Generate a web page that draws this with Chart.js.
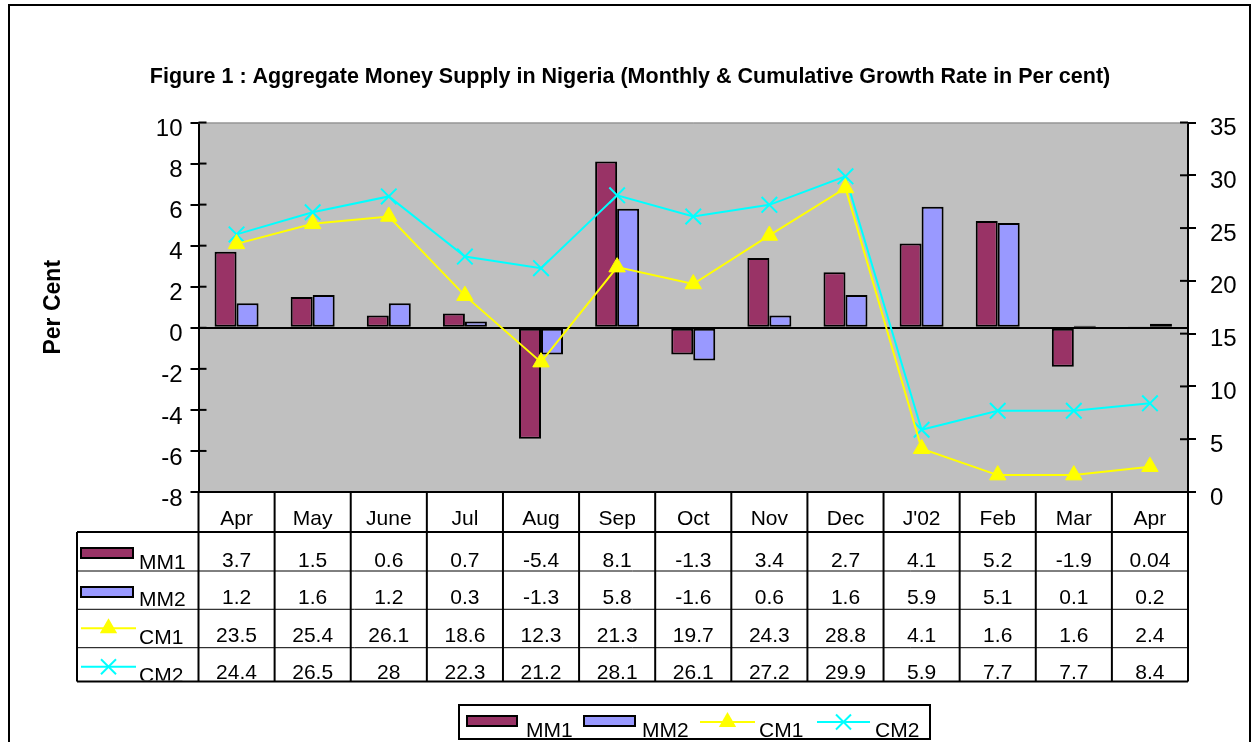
<!DOCTYPE html>
<html>
<head>
<meta charset="utf-8">
<script src="https://cdn.jsdelivr.net/npm/chart.js@4.4.1/dist/chart.umd.min.js"></script>
<style>
  html, body { margin: 0; padding: 0; background: #fff; }
</style>
</head>
<body>
<canvas id="myChart" width="1260" height="742"></canvas>
<script>
const months = ['Apr', 'May', 'June', 'Jul', 'Aug', 'Sep', 'Oct', 'Nov', 'Dec', "J'02", 'Feb', 'Mar', 'Apr'];
const mm1 = [3.7, 1.5, 0.6, 0.7, -5.4, 8.1, -1.3, 3.4, 2.7, 4.1, 5.2, -1.9, 0.04];
const mm2 = [1.2, 1.6, 1.2, 0.3, -1.3, 5.8, -1.6, 0.6, 1.6, 5.9, 5.1, 0.1, 0.2];
const cm1 = [23.5, 25.4, 26.1, 18.6, 12.3, 21.3, 19.7, 24.3, 28.8, 4.1, 1.6, 1.6, 2.4];
const cm2 = [24.4, 26.5, 28, 22.3, 21.2, 28.1, 26.1, 27.2, 29.9, 5.9, 7.7, 7.7, 8.4];
const leftTicks = [-8, -6, -4, -2, 0, 2, 4, 6, 8, 10];
const rightTicks = [0, 5, 10, 15, 20, 25, 30, 35];

const FONT = "'Liberation Sans', Arial, sans-serif";
const series = [
  { label: 'MM1', data: mm1, kind: 'bar', color: '#993366' },
  { label: 'MM2', data: mm2, kind: 'bar', color: '#9999FF' },
  { label: 'CM1', data: cm1, kind: 'tri', color: '#FFFF00' },
  { label: 'CM2', data: cm2, kind: 'cross', color: '#00FFFF' }
];

function seg(ctx, x0, y0, x1, y1) {
  ctx.beginPath(); ctx.moveTo(x0, y0); ctx.lineTo(x1, y1); ctx.stroke();
}

// legend / table key symbol
function drawKey(ctx, s, x0, x1, yc) {
  ctx.save();
  if (s.kind === 'bar') {
    ctx.fillStyle = s.color;
    ctx.fillRect(x0, yc - 5, x1 - x0, 10);
    ctx.strokeStyle = '#000'; ctx.lineWidth = 2;
    ctx.strokeRect(x0, yc - 5, x1 - x0, 10);
  } else {
    ctx.strokeStyle = s.color; ctx.lineWidth = 2;
    seg(ctx, x0, yc, x1, yc);
    const cx = (x0 + x1) / 2;
    if (s.kind === 'tri') {
      const r = 10;
      ctx.fillStyle = s.color;
      ctx.beginPath();
      ctx.moveTo(cx, yc - r);
      ctx.lineTo(cx + r * 0.866, yc + r / 2);
      ctx.lineTo(cx - r * 0.866, yc + r / 2);
      ctx.closePath(); ctx.fill();
    } else {
      const d = 7.5;
      seg(ctx, cx - d, yc - d, cx + d, yc + d);
      seg(ctx, cx - d, yc + d, cx + d, yc - d);
    }
  }
  ctx.restore();
}

const tablePlugin = {
  id: 'dataTable',
  beforeDraw(chart) {
    const { ctx, chartArea: a } = chart;
    ctx.save();
    ctx.fillStyle = '#C0C0C0';
    ctx.fillRect(a.left, a.top, a.right - a.left, a.bottom - a.top);
    ctx.restore();
  },
  afterDraw(chart) {
    const { ctx, chartArea: a, scales } = chart;
    const step = (a.right - a.left) / months.length;
    const rowTops = [532, 571, 609.3, 647.7];
    const textBase = [566.5, 603.5, 641.5, 679];
    const tBottom = 681.5;
    const tLeft = 77;
    ctx.save();
    ctx.strokeStyle = '#000';

    // outer frame
    ctx.lineWidth = 2;
    ctx.strokeRect(9, 5, 1241, 780);

    // plot top border
    ctx.strokeStyle = '#808080'; ctx.lineWidth = 1;
    seg(ctx, a.left, a.top + 0.5, a.right, a.top + 0.5);

    // inner halves of the crossing tick marks
    ctx.strokeStyle = '#000'; ctx.lineWidth = 2;
    scales.y.ticks.forEach(t => {
      const y = scales.y.getPixelForValue(t.value);
      seg(ctx, a.left, y, a.left + 8, y);
    });
    scales.y1.ticks.forEach(t => {
      const y = scales.y1.getPixelForValue(t.value);
      seg(ctx, a.right - 8, y, a.right, y);
    });

    // table grid
    ctx.lineWidth = 2;
    seg(ctx, a.left, a.bottom, a.right, a.bottom);
    for (let i = 0; i <= months.length; i++) {
      const x = a.left + i * step;
      seg(ctx, x, a.bottom, x, tBottom);
    }
    seg(ctx, tLeft, rowTops[0], a.right, rowTops[0]);
    seg(ctx, tLeft, tBottom, a.right, tBottom);
    seg(ctx, tLeft, rowTops[0], tLeft, tBottom);
    ctx.lineWidth = 1;
    for (let r = 1; r < rowTops.length; r++) {
      seg(ctx, tLeft, rowTops[r], a.right, rowTops[r]);
    }

    // table text
    ctx.fillStyle = '#000';
    ctx.font = '21px ' + FONT;
    ctx.textAlign = 'center';
    ctx.textBaseline = 'alphabetic';
    months.forEach((m, i) => {
      ctx.fillText(m, scales.x.getPixelForValue(i), a.bottom + 32.5);
    });
    ctx.save();
    ctx.beginPath(); ctx.rect(0, 0, 1260, tBottom - 1); ctx.clip();
    series.forEach((s, r) => {
      s.data.forEach((v, i) => {
        ctx.fillText(String(v), scales.x.getPixelForValue(i), textBase[r]);
      });
      ctx.textAlign = 'left';
      ctx.fillText(s.label, 139, textBase[r] + 2.5);
      ctx.textAlign = 'center';
      drawKey(ctx, s, 81, s.kind === 'bar' ? 133 : 136, rowTops[r] + (s.kind === 'bar' ? 21 : 19));
    });
    ctx.restore();

    // legend box
    ctx.strokeStyle = '#000'; ctx.lineWidth = 2;
    ctx.strokeRect(459, 705, 471, 34);
    const keys = [[467, 517, 526], [584, 635, 642], [700, 755, 759], [817, 870, 875]];
    ctx.textAlign = 'left';
    series.forEach((s, i) => {
      const [x0, x1, tx] = keys[i];
      drawKey(ctx, s, x0, x1, s.kind === 'bar' ? 721 : 722);
      ctx.fillStyle = '#000';
      ctx.fillText(s.label, tx, 737);
    });
    ctx.restore();
  }
};

const ctx = document.getElementById('myChart').getContext('2d');
new Chart(ctx, {
  type: 'bar',
  data: {
    labels: months,
    datasets: [
      { type: 'line', label: 'CM1', data: cm1, yAxisID: 'y1', order: 1,
        borderColor: '#FFFF00', borderWidth: 2, tension: 0,
        pointStyle: 'triangle', pointRadius: 9.5, pointBackgroundColor: '#FFFF00',
        pointBorderColor: '#FFFF00', pointBorderWidth: 1 },
      { type: 'line', label: 'CM2', data: cm2, yAxisID: 'y1', order: 1,
        borderColor: '#00FFFF', borderWidth: 2, tension: 0,
        pointStyle: 'crossRot', pointRadius: 11,
        pointBorderColor: '#00FFFF', pointBorderWidth: 2 },
      { label: 'MM1', data: mm1, yAxisID: 'y', order: 2,
        backgroundColor: '#993366', borderColor: '#000', borderWidth: 2, borderSkipped: false },
      { label: 'MM2', data: mm2, yAxisID: 'y', order: 2,
        backgroundColor: '#9999FF', borderColor: '#000', borderWidth: 2, borderSkipped: false }
    ]
  },
  options: {
    responsive: false,
    animation: false,
    devicePixelRatio: 1,
    layout: { padding: { left: 0, right: 0, top: 0, bottom: 250 } },
    datasets: { bar: { categoryPercentage: 0.578, barPercentage: 1 } },
    plugins: {
      legend: { display: false },
      tooltip: { enabled: false },
      title: {
        display: true,
        text: 'Figure 1 : Aggregate Money Supply in Nigeria (Monthly & Cumulative Growth Rate in Per cent)',
        color: '#000',
        font: { family: FONT, size: 21.5, weight: 'bold' },
        padding: { top: 64, bottom: 32.7 }
      }
    },
    scales: {
      x: { type: 'category', display: false, offset: true },
      y: {
        position: 'left',
        min: leftTicks[0], max: leftTicks[leftTicks.length - 1],
        ticks: { stepSize: leftTicks[1] - leftTicks[0], color: '#000', padding: 8, labelOffset: 7,
                 font: { family: FONT, size: 24 } },
        grid: {
          drawOnChartArea: true, tickLength: 8, lineWidth: 2, tickColor: '#000',
          color: c => (c.tick && c.tick.value === 0) ? '#000' : 'rgba(0,0,0,0)'
        },
        border: { display: true, color: '#000', width: 2 },
        title: { display: true, text: 'Per Cent', color: '#000',
                 font: { family: FONT, size: 23, weight: 'bold' }, padding: { top: 39.5, bottom: 0 } },
        afterFit(scale) { scale.width = 198.5; }
      },
      y1: {
        position: 'right',
        min: rightTicks[0], max: rightTicks[rightTicks.length - 1],
        ticks: { stepSize: rightTicks[1] - rightTicks[0], color: '#000', padding: 14, labelOffset: 6,
                 font: { family: FONT, size: 24 } },
        grid: { drawOnChartArea: false, tickLength: 8, lineWidth: 2, color: '#000', tickColor: '#000' },
        border: { display: true, color: '#000', width: 2 },
        afterFit(scale) { scale.width = 72; }
      }
    }
  },
  plugins: [tablePlugin]
});
</script>
</body>
</html>
